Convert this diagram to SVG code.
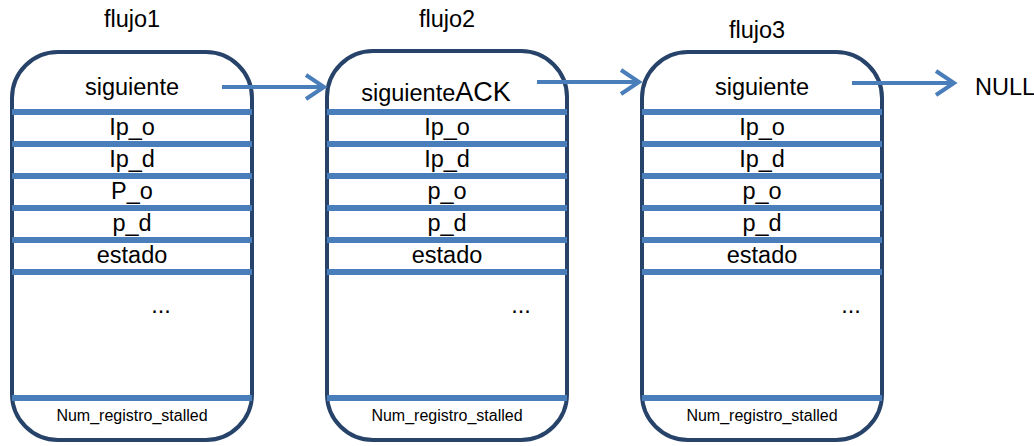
<svg xmlns="http://www.w3.org/2000/svg" width="1034" height="446" viewBox="0 0 1034 446">
<style>
.box{fill:#fff;stroke:#27436a;stroke-width:4}
.div{stroke:#4a7ebb;stroke-width:6}
.t{font-family:"Liberation Sans",Arial,sans-serif;font-size:23.5px;fill:#000;text-anchor:middle}
.s{font-family:"Liberation Sans",Arial,sans-serif;font-size:16px;fill:#000;text-anchor:middle}
.ar{stroke:#4a7ebb;stroke-width:4;fill:none}
</style>
<g id="title1"><text class="t" x="132" y="27">flujo1</text></g>
<g id="title2"><text class="t" x="447" y="27">flujo2</text></g>
<g id="title3"><text class="t" x="757" y="38">flujo3</text></g>
<g id="flujo1">
<rect class="box" x="12" y="52" width="240" height="388" rx="46" ry="46"/>
<line class="div" x1="12" y1="112" x2="252" y2="112"/>
<line class="div" x1="12" y1="144" x2="252" y2="144"/>
<line class="div" x1="12" y1="176" x2="252" y2="176"/>
<line class="div" x1="12" y1="208" x2="252" y2="208"/>
<line class="div" x1="12" y1="240" x2="252" y2="240"/>
<line class="div" x1="12" y1="272" x2="252" y2="272"/>
<line class="div" x1="12" y1="398" x2="252" y2="398"/>
<text class="t" x="132" y="95">siguiente</text>
<text class="t" x="132" y="135">Ip_o</text>
<text class="t" x="132" y="167">Ip_d</text>
<text class="t" x="132" y="199">P_o</text>
<text class="t" x="132" y="231">p_d</text>
<text class="t" x="132" y="263">estado</text>
<text class="t" x="161" y="313">...</text>
<text class="s" x="132" y="421">Num_registro_stalled</text>
</g>
<g id="flujo2">
<rect class="box" x="327" y="51" width="240" height="389" rx="46" ry="46"/>
<line class="div" x1="327" y1="112" x2="567" y2="112"/>
<line class="div" x1="327" y1="144" x2="567" y2="144"/>
<line class="div" x1="327" y1="176" x2="567" y2="176"/>
<line class="div" x1="327" y1="208" x2="567" y2="208"/>
<line class="div" x1="327" y1="240" x2="567" y2="240"/>
<line class="div" x1="327" y1="272" x2="567" y2="272"/>
<line class="div" x1="327" y1="398" x2="567" y2="398"/>
<text class="t" x="436" y="101">siguiente<tspan font-size="27px">ACK</tspan></text>
<text class="t" x="447" y="135">Ip_o</text>
<text class="t" x="447" y="167">Ip_d</text>
<text class="t" x="447" y="199">p_o</text>
<text class="t" x="447" y="231">p_d</text>
<text class="t" x="447" y="263">estado</text>
<text class="t" x="521" y="313">...</text>
<text class="s" x="447" y="421">Num_registro_stalled</text>
</g>
<g id="flujo3">
<rect class="box" x="642" y="52" width="240" height="388" rx="46" ry="46"/>
<line class="div" x1="642" y1="112" x2="882" y2="112"/>
<line class="div" x1="642" y1="144" x2="882" y2="144"/>
<line class="div" x1="642" y1="176" x2="882" y2="176"/>
<line class="div" x1="642" y1="208" x2="882" y2="208"/>
<line class="div" x1="642" y1="240" x2="882" y2="240"/>
<line class="div" x1="642" y1="272" x2="882" y2="272"/>
<line class="div" x1="642" y1="398" x2="882" y2="398"/>
<text class="t" x="762" y="95">siguiente</text>
<text class="t" x="762" y="135">Ip_o</text>
<text class="t" x="762" y="167">Ip_d</text>
<text class="t" x="762" y="199">p_o</text>
<text class="t" x="762" y="231">p_d</text>
<text class="t" x="762" y="263">estado</text>
<text class="t" x="851" y="313">...</text>
<text class="s" x="762" y="421">Num_registro_stalled</text>
</g>
<g id="null"><text class="t" x="975" y="95" style="text-anchor:start">NULL</text></g>
<g id="connectors">
<line class="ar" x1="222" y1="87" x2="322" y2="87"/>
<path class="ar" d="M306,75 L324,87 L306,99"/>
<line class="ar" x1="537" y1="82" x2="637" y2="82"/>
<path class="ar" d="M621,70 L639,82 L621,94"/>
<line class="ar" x1="852" y1="83" x2="952" y2="83"/>
<path class="ar" d="M936,71 L954,83 L936,95"/>
</g>
</svg>
